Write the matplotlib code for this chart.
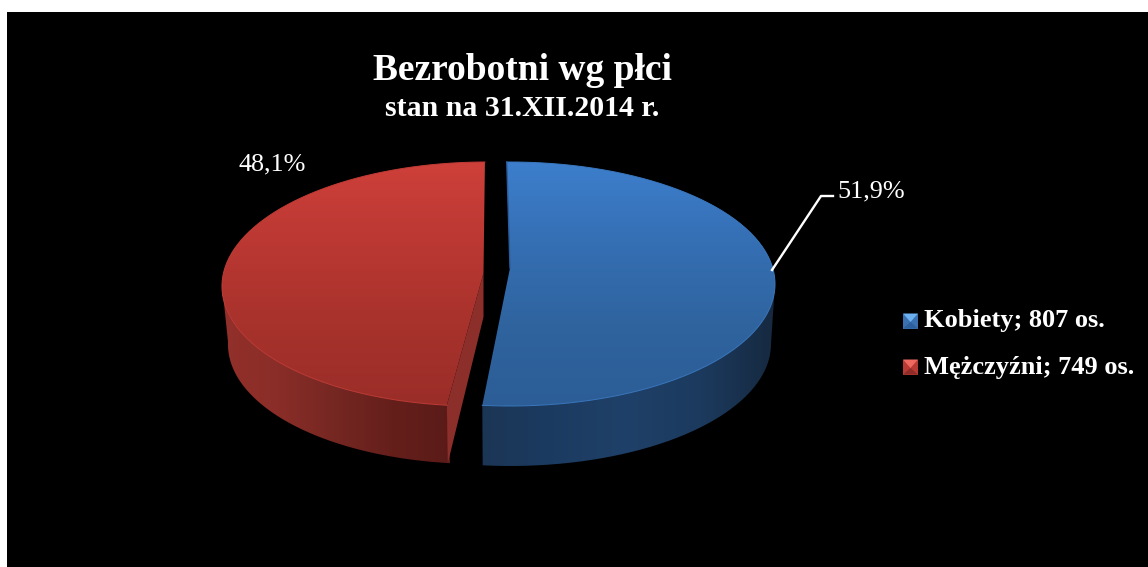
import numpy as np
import matplotlib
matplotlib.use("Agg")
import matplotlib.pyplot as plt
from matplotlib.path import Path
from matplotlib.patches import PathPatch, Polygon, Rectangle
from matplotlib.colors import LinearSegmentedColormap

categories = ["Kobiety", "Mężczyźni"]
counts = [807, 749]
pct_labels = ["51,9%", "48,1%"]
title = "Bezrobotni wg płci"
subtitle = "stan na 31.XII.2014 r."

plt.rcParams["font.family"] = ["Liberation Serif", "DejaVu Serif"]
fig = plt.figure(figsize=(11.48, 5.67), dpi=100, facecolor="white")
ax = fig.add_axes([0, 0, 1, 1])
ax.set_xlim(0, 1148); ax.set_ylim(567, 0); ax.axis("off")
ax.add_patch(Rectangle((7, 12), 1141, 555, fc="black", ec="none", zorder=0))

fractions = np.array(counts) / sum(counts)
sweeps = fractions * 360

B, YC = 122, 284

def rim(cx, a, t0, t1, shear=0.0, dy=0.0, n=160):
    t = np.radians(np.linspace(t0, t1, n))
    y = YC - B * np.cos(t)
    x = cx + a * np.sin(t) - shear * (y - YC)
    return x, y + dy

def fill(verts, cmap, extent, direction, z):
    path = Path(np.vstack([verts, verts[0]]))
    patch = PathPatch(path, fc="none", ec="none", transform=ax.transData, zorder=z)
    ax.add_patch(patch)
    grad = np.linspace(0, 1, 256)
    grad = grad[:, None] if direction == "v" else grad[None, :]
    im = ax.imshow(grad, cmap=cmap, extent=extent, aspect="auto", zorder=z, interpolation="bilinear")
    im.set_clip_path(patch)

def cm(*cols):
    return LinearSegmentedColormap.from_list("c", list(cols))

top_blue = cm("#3d7fcd", "#356fb4", "#2f649f", "#2c5d96")
wall_blue = cm("#1b3554", "#1c3b61", "#1f4068", "#1c3a5e", "#16293f")
top_red = cm("#cf403a", "#bb3833", "#a8322c", "#9a2d28")
wall_red = cm("#93302b", "#8a2d28", "#752722", "#651f1b", "#5a1b18")

# ---- Kobiety (blue) slice
rot_b = -0.7
cx_b, a_b = 510, 265
xb, yb = rim(cx_b, a_b, rot_b, rot_b + sweeps[0])
wx, wy = rim(cx_b, a_b - 4, 90, rot_b + sweeps[0], dy=60)
tx, ty = rim(cx_b, a_b, 90, rot_b + sweeps[0])
fill(np.column_stack([np.r_[tx, wx[::-1]], np.r_[ty, wy[::-1]]]), wall_blue,
     (478, 776, 470, 280), "h", 2)
apex_b = (510, 268)
fill(np.column_stack([np.r_[xb, apex_b[0]], np.r_[yb, apex_b[1]]]), top_blue,
     (240, 780, 406, 160), "v", 3)
ax.plot(xb, yb, color="#3a78c0", lw=0.7, zorder=4)
ax.plot([xb[0], apex_b[0]], [yb[0], apex_b[1]], color="#2a5c9c", lw=1, zorder=4)

# ---- Mężczyźni (red) slice
rot_r = 186.5
cx_r, a_r, k = 481, 259, 0.04
xr, yr = rim(cx_r, a_r, rot_r, rot_r + sweeps[1], shear=k)
wx, wy = rim(cx_r + 3, a_r - 3, rot_r, 270, shear=k, dy=58)
tx, ty = rim(cx_r, a_r, rot_r, 270, shear=k)
fill(np.column_stack([np.r_[tx, wx[::-1]], np.r_[ty, wy[::-1]]]), wall_red,
     (220, 450, 470, 280), "h", 2)
apex_r = (483.5, 273)
ax.add_patch(Polygon([apex_r, (xr[0], yr[0]), (xr[0] + 1, yr[0] + 58), (483.5, 317)],
                     fc="#8c2e29", ec="none", zorder=2))
fill(np.column_stack([np.r_[xr, apex_r[0]], np.r_[yr, apex_r[1]]]), top_red,
     (220, 490, 406, 160), "v", 3)
ax.plot(xr, yr, color="#c03c36", lw=0.7, zorder=4)

# ---- texts
cx_title = 522
ax.text(cx_title, 70, title, fontsize=27, fontweight="bold", color="white",
        ha="center", va="center", zorder=6)
ax.text(cx_title, 109, subtitle, fontsize=21.5, fontweight="bold", color="white",
        ha="center", va="center", zorder=6)
ax.text(871.5, 191, pct_labels[0], fontsize=18.8, color="white", ha="center", va="center", zorder=6)
ax.text(272, 164, pct_labels[1], fontsize=18.8, color="white", ha="center", va="center", zorder=6)
ax.plot([772, 821, 833], [270, 196, 196], color="white", lw=1.7, zorder=6)

# ---- legend
leg_cols = [("#6db0f0", "#3a70b0", "#2d5f9c"), ("#ee6a60", "#b83a34", "#8f2c28")]
for i, (cat, n) in enumerate(zip(categories, counts)):
    ym = 321 + i * 46
    x0, x1, y0, y1 = 903, 918, ym - 7.5, ym + 7.5
    hi, mid, lo = leg_cols[i]
    ax.add_patch(Rectangle((x0, y0), x1 - x0, y1 - y0, fc=mid, ec="none", zorder=6))
    ax.add_patch(Polygon([(x0, y0), (x1, y0), ((x0 + x1) / 2, ym + 1)], fc=hi, ec="none", zorder=7))
    ax.add_patch(Polygon([(x0, y1), (x1, y1), ((x0 + x1) / 2, ym + 1)], fc=lo, ec="none", zorder=7))
    ax.text(924, ym - 0.5 + i, f"{cat}; {n} os.", fontsize=19, fontweight="bold", color="white",
            ha="left", va="center", zorder=7)

ax.set_xlim(0, 1148); ax.set_ylim(567, 0)
fig.savefig("out.png", dpi=100, facecolor="white")
